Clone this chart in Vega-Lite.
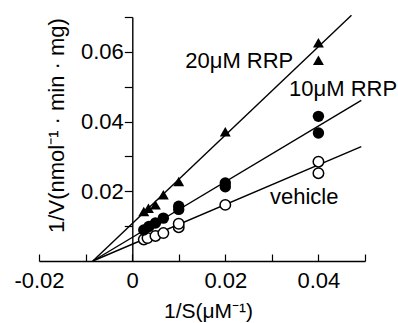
{
  "$schema": "https://vega.github.io/schema/vega-lite/v6.json",
  "width": 326,
  "height": 244,
  "autosize": {"type": "none"},
  "padding": {"left": 39, "top": 17, "right": 33, "bottom": 62},
  "background": "white",
  "config": {
    "view": {"stroke": null},
    "font": "Liberation Sans",
    "axis": {"grid": false, "domainColor": "black", "tickColor": "black", "labelColor": "black", "titleColor": "black", "domainWidth": 1.4, "tickWidth": 1.2, "titleFontWeight": "normal", "labelFont": "Liberation Sans", "titleFont": "Liberation Sans"}
  },
  "datasets": {
    "points": [
      {"group": "vehicle", "x": 0.0025, "y": 0.0062},
      {"group": "vehicle", "x": 0.0033, "y": 0.0066},
      {"group": "vehicle", "x": 0.005, "y": 0.0072},
      {"group": "vehicle", "x": 0.0067, "y": 0.0080},
      {"group": "vehicle", "x": 0.01, "y": 0.0097},
      {"group": "vehicle", "x": 0.01, "y": 0.0107},
      {"group": "vehicle", "x": 0.02, "y": 0.0161},
      {"group": "vehicle", "x": 0.04, "y": 0.0252},
      {"group": "vehicle", "x": 0.04, "y": 0.0285},
      {"group": "10uM", "x": 0.0025, "y": 0.0089},
      {"group": "10uM", "x": 0.0036, "y": 0.0099},
      {"group": "10uM", "x": 0.005, "y": 0.0109},
      {"group": "10uM", "x": 0.0067, "y": 0.0123},
      {"group": "10uM", "x": 0.01, "y": 0.0148},
      {"group": "10uM", "x": 0.01, "y": 0.0157},
      {"group": "10uM", "x": 0.02, "y": 0.0213},
      {"group": "10uM", "x": 0.02, "y": 0.0224},
      {"group": "10uM", "x": 0.04, "y": 0.0367},
      {"group": "10uM", "x": 0.04, "y": 0.0415},
      {"group": "20uM", "x": 0.0025, "y": 0.0142},
      {"group": "20uM", "x": 0.0035, "y": 0.0151},
      {"group": "20uM", "x": 0.005, "y": 0.0161},
      {"group": "20uM", "x": 0.0067, "y": 0.0190},
      {"group": "20uM", "x": 0.01, "y": 0.0228},
      {"group": "20uM", "x": 0.02, "y": 0.0371},
      {"group": "20uM", "x": 0.04, "y": 0.0576},
      {"group": "20uM", "x": 0.04, "y": 0.0626}
    ],
    "lines": [
      {"group": "20uM", "x": -0.00844, "y": 0},
      {"group": "20uM", "x": 0.0471, "y": 0.0705},
      {"group": "10uM", "x": -0.00844, "y": 0},
      {"group": "10uM", "x": 0.0492, "y": 0.0461},
      {"group": "vehicle", "x": -0.00844, "y": 0},
      {"group": "vehicle", "x": 0.0492, "y": 0.0328}
    ],
    "labels": [
      {"text": "20μM RRP", "x": 0.0114, "y": 0.0554},
      {"text": "10μM RRP", "x": 0.0337, "y": 0.0472},
      {"text": "vehicle", "x": 0.0296, "y": 0.0164}
    ]
  },
  "encoding": {
    "x": {
      "field": "x", "type": "quantitative",
      "scale": {"domain": [-0.02, 0.05], "nice": false, "zero": false},
      "axis": {
        "orient": "bottom",
        "values": [-0.02, -0.01, 0, 0.01, 0.02, 0.03, 0.04, 0.05],
        "labelExpr": "round(datum.value*100) % 2 == 0 ? (datum.value == 0 ? '0' : (datum.value < 0 ? '-' : '') + format(abs(datum.value), '.2f')) : ''",
        "tickSize": -7,
        "labelPadding": 16,
        "labelFontSize": 22,
        "labelFlush": false,
        "labelOverlap": false,
        "title": "1/S(μM⁻¹)",
        "titleFontSize": 21,
        "titleX": 169,
        "titleY": 50,
        "titleAlign": "center",
        "titleBaseline": "middle"
      }
    },
    "y": {
      "field": "y", "type": "quantitative",
      "scale": {"domain": [0, 0.07], "nice": false, "zero": false},
      "axis": {
        "orient": "left",
        "offset": -93.3,
        "values": [0.01, 0.02, 0.03, 0.04, 0.05, 0.06, 0.07],
        "labelExpr": "round(datum.value*100) % 2 == 0 ? format(datum.value, '.2f') : ''",
        "tickSize": 8,
        "labelPadding": 1,
        "labelFontSize": 22,
        "labelFlush": false,
        "labelOverlap": false,
        "title": "1/V(nmol⁻¹ · min · mg)",
        "titleFontSize": 22,
        "titleX": -76,
        "titleY": 108,
        "titleAngle": -90,
        "titleAlign": "center",
        "titleBaseline": "middle"
      }
    }
  },
  "layer": [
    {
      "data": {"name": "lines"},
      "mark": {"type": "line", "color": "black", "strokeWidth": 1.4},
      "encoding": {"detail": {"field": "group"}}
    },
    {
      "data": {"name": "points"},
      "transform": [{"filter": "datum.group == 'vehicle'"}],
      "mark": {"type": "point", "shape": "circle", "filled": true, "fill": "white", "stroke": "black", "strokeWidth": 1.5, "size": 110, "opacity": 1}
    },
    {
      "data": {"name": "points"},
      "transform": [{"filter": "datum.group == '10uM'"}],
      "mark": {"type": "point", "shape": "circle", "filled": true, "color": "black", "size": 130, "opacity": 1}
    },
    {
      "data": {"name": "points"},
      "transform": [{"filter": "datum.group == '20uM'"}],
      "mark": {"type": "point", "shape": "triangle-up", "filled": true, "color": "black", "size": 120, "opacity": 1}
    },
    {
      "data": {"name": "labels"},
      "mark": {"type": "text", "align": "left", "baseline": "alphabetic", "fontSize": 22, "color": "black", "font": "Liberation Sans"},
      "encoding": {"text": {"field": "text"}}
    }
  ]
}
